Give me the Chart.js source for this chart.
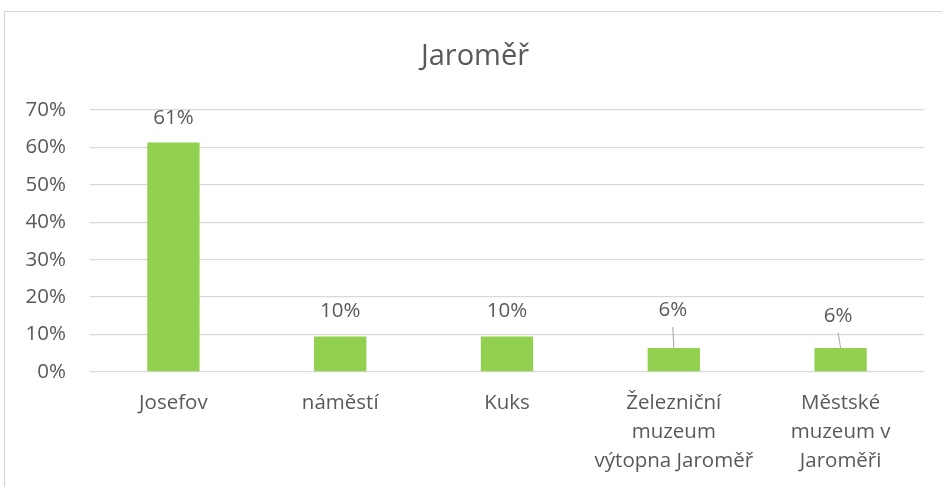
<!DOCTYPE html>
<html>
<head>
<meta charset="utf-8">
<script src="https://cdn.jsdelivr.net/npm/chart.js@4"></script>
<style>
  html, body { margin: 0; padding: 0; background: #fff; overflow: hidden; }
  #wrap { position: relative; width: 942px; height: 487px; }
  canvas { display: block; }
</style>
</head>
<body>
<div id="wrap"><canvas id="c" width="942" height="487"></canvas></div>
<script>
// ---- data ----
const titleText = "Jaroměř";
const categories = [
  "Josefov",
  "náměstí",
  "Kuks",
  ["Železniční", "muzeum", "výtopna Jaroměř"],
  ["Městské", "muzeum v", "Jaroměři"]
];
const values = [61.3, 9.5, 9.5, 6.4, 6.4];
const valueLabels = ["61%", "10%", "10%", "6%", "6%"];
const yTicks = [0, 10, 20, 30, 40, 50, 60, 70];

// ---- styles ----
const FONT = "'Open Sans', sans-serif";
const TEXT = "#595959";
const GRID = "#d9d9d9";
const BAR = "#92d050";
// label placement relative to bar top
const labelStyle = [
  { dx: 0, dy: -24, leader: false },
  { dx: 0, dy: -25, leader: false },
  { dx: 0, dy: -25, leader: false },
  { dx: -1, dy: -37.5, leader: true },
  { dx: -2.5, dy: -32, leader: true }
];
const titlePos = { x: 475, y: 57 };

const frame = {
  id: "frame",
  beforeDraw(chart) {
    const ctx = chart.ctx;
    ctx.save();
    ctx.fillStyle = "#fff";
    ctx.fillRect(0, 0, chart.width, chart.height);
    ctx.strokeStyle = GRID;
    ctx.lineWidth = 1.2;
    ctx.beginPath();
    ctx.moveTo(4.5, chart.height + 5);
    ctx.lineTo(4.5, 11.5);
    ctx.lineTo(chart.width + 5, 11.5);
    ctx.stroke();
    ctx.restore();
  },
  afterDraw(chart) {
    const ctx = chart.ctx;
    ctx.save();
    ctx.font = "29px " + FONT;
    ctx.fillStyle = TEXT;
    ctx.textAlign = "center";
    ctx.textBaseline = "middle";
    ctx.fillText(titleText, titlePos.x, titlePos.y);
    ctx.restore();
  }
};

const dataLabels = {
  id: "dataLabels",
  afterDatasetsDraw(chart) {
    const ctx = chart.ctx;
    const meta = chart.getDatasetMeta(0);
    ctx.save();
    ctx.font = "20.5px " + FONT;
    ctx.fillStyle = TEXT;
    ctx.textAlign = "center";
    ctx.textBaseline = "middle";
    meta.data.forEach((bar, i) => {
      const s = labelStyle[i];
      const lx = bar.x + s.dx;
      const ly = bar.y + s.dy;
      ctx.fillText(valueLabels[i], lx, ly);
      if (s.leader) {
        ctx.strokeStyle = "#a6a6a6";
        ctx.lineWidth = 1;
        ctx.beginPath();
        ctx.moveTo(lx, ly + 16.5);
        ctx.lineTo(bar.x, bar.y);
        ctx.stroke();
      }
    });
    ctx.restore();
  }
};

new Chart(document.getElementById("c"), {
  type: "bar",
  data: {
    labels: categories,
    datasets: [{
      data: values,
      backgroundColor: BAR,
      borderWidth: 0,
      categoryPercentage: 1,
      barPercentage: 0.3136
    }]
  },
  plugins: [frame, dataLabels],
  options: {
    responsive: false,
    animation: false,
    devicePixelRatio: 1,
    layout: { padding: { left: 0, right: 18, top: 110, bottom: 0 } },
    plugins: {
      legend: { display: false },
      tooltip: { enabled: false },
      title: { display: false }
    },
    scales: {
      x: {
        grid: { display: false, drawTicks: false },
        border: { display: false },
        ticks: {
          color: TEXT,
          font: { family: FONT, size: 20.5, lineHeight: 1.4 },
          padding: 17,
          maxRotation: 0,
          autoSkip: false
        },
        afterFit(scale) { scale.height = 115; }
      },
      y: {
        min: 0,
        max: 70,
        afterBuildTicks(scale) { scale.ticks = yTicks.map(v => ({ value: v })); },
        grid: { color: GRID, lineWidth: 1.3, drawTicks: false },
        border: { display: false },
        ticks: {
          color: TEXT,
          font: { family: FONT, size: 20.5 },
          padding: 24,
          callback: v => v + "%"
        },
        afterFit(scale) { scale.width = 90; }
      }
    }
  }
});
</script>
</body>
</html>
